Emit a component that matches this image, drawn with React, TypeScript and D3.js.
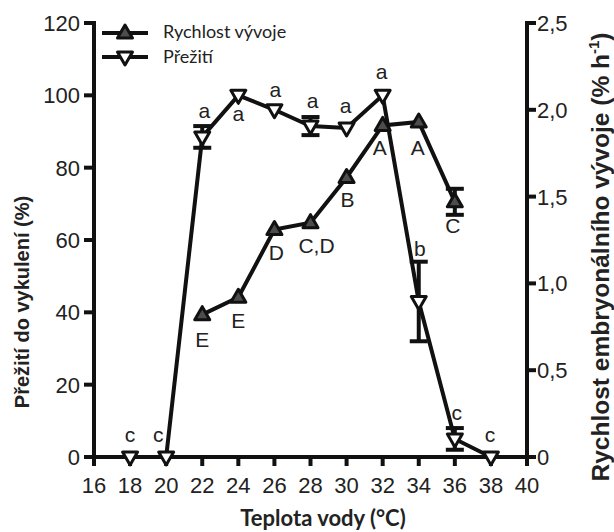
import * as d3 from "d3"

// water temperature (°C)
const temps = [18, 20, 22, 24, 26, 28, 30, 32, 34, 36, 38]
// hatching survival (%)
const survival = [0, 0, 88.5, 100, 96, 91.5, 91, 100, 43, 5, 0]
const survivalErr = [0, 0, 3, 0, 0, 2.5, 0, 0, 11, 3, 0]
const survivalLetters = ["c", "c", "a", "a", "a", "a", "a", "a", "b", "c", "c"]

// embryonic development rate (% h-1)
const rateTemps = [22, 24, 26, 28, 30, 32, 34, 36]
const rate = [0.82, 0.92, 1.31, 1.35, 1.61, 1.91, 1.93, 1.47]
const rateErr = [0, 0, 0, 0, 0, 0, 0, 0.075]
const rateLetters = ["E", "E", "D", "C,D", "B", "A", "A", "C"]

const xTicks = [16, 18, 20, 22, 24, 26, 28, 30, 32, 34, 36, 38, 40]
const leftTicks = [0, 20, 40, 60, 80, 100, 120]
const rightTicks = [0, 0.5, 1, 1.5, 2, 2.5]

// letter placement relative to the point (layout only)
const survLabelOff = [[0, -15], [-8, -15], [2, -19], [0, 26], [1, -13], [2, -18], [-1, -15], [-1, -16], [1, -45], [2, -19], [-1, -15]]
const rateLabelOff = [[0, 32], [0, 31], [2, 30], [6, 30], [1, 29], [-3, 30], [-1, 33], [-2, 31]]

const W = 614
const H = 532
const sans = "'Liberation Sans', Arial, sans-serif"
const calibri = "Lato, 'Open Sans', sans-serif"

const triUp = (cx: number, cy: number) => `M${cx},${cy - 8}L${cx + 7.5},${cy + 5}L${cx - 7.5},${cy + 5}Z`
const triDown = (cx: number, cy: number) => `M${cx},${cy + 8}L${cx + 7.5},${cy - 5}L${cx - 7.5},${cy - 5}Z`

export default function App() {
    const x = d3.scaleLinear().domain([16, 40]).range([94, 527])
    const yL = d3.scaleLinear().domain([0, 120]).range([457, 23])
    const yR = d3.scaleLinear().domain([0, 2.5]).range([457, 23])

    const line = d3.line<[number, number]>().x(d => d[0]).y(d => d[1])
    const survPts: [number, number][] = temps.map((t, i) => [x(t), yL(survival[i])])
    const ratePts: [number, number][] = rateTemps.map((t, i) => [x(t), yR(rate[i])])
    const fmtR = (v: number) => (v === 0 ? "0" : d3.format(".1f")(v).replace(".", ","))

    const sw = 4
    return (
        <svg width={W} height={H} style={{ position: "absolute", left: 0, top: 0, background: "#fff" }}>
            {/* axes */}
            <g stroke="#111" strokeWidth={sw} fill="none">
                <line x1={x(16)} x2={x(16)} y1={yL(120) - 2} y2={yL(0)} />
                <line x1={x(40)} x2={x(40)} y1={yR(2.5) - 2} y2={yR(0)} />
                <line x1={x(16)} x2={x(40)} y1={yL(0)} y2={yL(0)} />
                {leftTicks.map(t => <line key={"l" + t} x1={x(16) - 10} x2={x(16)} y1={yL(t)} y2={yL(t)} />)}
                {rightTicks.map(t => <line key={"r" + t} x1={x(40)} x2={x(40) + 9} y1={yR(t)} y2={yR(t)} />)}
                {xTicks.map(t => <line key={"x" + t} x1={x(t)} x2={x(t)} y1={yL(0)} y2={yL(0) + 9} />)}
            </g>
            <g fontFamily={sans} fontSize={22} fill="#222">
                {leftTicks.map(t => <text key={t} x={x(16) - 14} y={yL(t) + 8} textAnchor="end">{t}</text>)}
                {rightTicks.map(t => <text key={t} x={x(40) + 10} y={yR(t) + 8}>{fmtR(t)}</text>)}
                {xTicks.map(t => <text key={t} x={x(t)} y={493} textAnchor="middle">{t}</text>)}
            </g>

            {/* titles */}
            <text x={323} y={526} textAnchor="middle" fontFamily={calibri} fontWeight="bold" fontSize={22} fill="#222">Teplota vody (°C)</text>
            <text transform="translate(29,302) rotate(-90)" textAnchor="middle" fontFamily={sans} fontWeight="bold" fontSize={20} fill="#222">Přežití do vykulení (%)</text>
            <text transform="translate(609,257) rotate(-90)" textAnchor="middle" fontFamily={sans} fontWeight="bold" fontSize={24.5} fill="#222">
                Rychlost embryonálního vývoje (% h<tspan fontSize={15} dy={-10}>-1</tspan><tspan dy={10}>)</tspan>
            </text>

            {/* rate series */}
            <path d={line(ratePts) ?? ""} stroke="#111" strokeWidth={sw} fill="none" />
            {rateTemps.map((t, i) => rateErr[i] > 0 && (
                <g key={"re" + t} stroke="#111" strokeWidth={sw}>
                    <line x1={x(t)} x2={x(t)} y1={yR(rate[i] - rateErr[i])} y2={yR(rate[i] + rateErr[i])} />
                    <line x1={x(t) - 9} x2={x(t) + 9} y1={yR(rate[i] + rateErr[i])} y2={yR(rate[i] + rateErr[i])} />
                    <line x1={x(t) - 9} x2={x(t) + 9} y1={yR(rate[i] - rateErr[i])} y2={yR(rate[i] - rateErr[i])} />
                </g>
            ))}

            {/* survival series */}
            <path d={line(survPts) ?? ""} stroke="#111" strokeWidth={sw} fill="none" />
            {temps.map((t, i) => survivalErr[i] > 0 && (
                <g key={"se" + t} stroke="#111" strokeWidth={sw}>
                    <line x1={x(t)} x2={x(t)} y1={yL(survival[i] - survivalErr[i])} y2={yL(survival[i] + survivalErr[i])} />
                    <line x1={x(t) - 9} x2={x(t) + 9} y1={yL(survival[i] + survivalErr[i])} y2={yL(survival[i] + survivalErr[i])} />
                    <line x1={x(t) - 9} x2={x(t) + 9} y1={yL(survival[i] - survivalErr[i])} y2={yL(survival[i] - survivalErr[i])} />
                </g>
            ))}

            {ratePts.map(([px, py], i) => <path key={"rp" + i} d={triUp(px, py)} fill="#4d4d4d" stroke="#111" strokeWidth={3} strokeLinejoin="round" />)}
            {survPts.map(([px, py], i) => <path key={"sp" + i} d={triDown(px, py)} fill="#fff" stroke="#111" strokeWidth={3} strokeLinejoin="round" />)}

            {/* letters */}
            <g fontFamily={sans} fontSize={21} fill="#222" textAnchor="middle">
                {survPts.map(([px, py], i) => <text key={"sl" + i} x={px + survLabelOff[i][0]} y={py + survLabelOff[i][1]}>{survivalLetters[i]}</text>)}
                {ratePts.map(([px, py], i) => <text key={"rl" + i} x={px + rateLabelOff[i][0]} y={py + rateLabelOff[i][1]}>{rateLetters[i]}</text>)}
            </g>

            {/* legend */}
            <g stroke="#111" strokeWidth={sw}>
                <line x1={102} x2={148} y1={33} y2={33} />
                <line x1={102} x2={148} y1={57} y2={57} />
            </g>
            <path d={triUp(125, 33)} fill="#4d4d4d" stroke="#111" strokeWidth={3} strokeLinejoin="round" />
            <path d={triDown(125, 57)} fill="#fff" stroke="#111" strokeWidth={3} strokeLinejoin="round" />
            <g fontFamily={calibri} fontSize={18} fill="#222">
                <text x={163} y={38}>Rychlost vývoje</text>
                <text x={163} y={63}>Přežití</text>
            </g>
        </svg>
    )
}
